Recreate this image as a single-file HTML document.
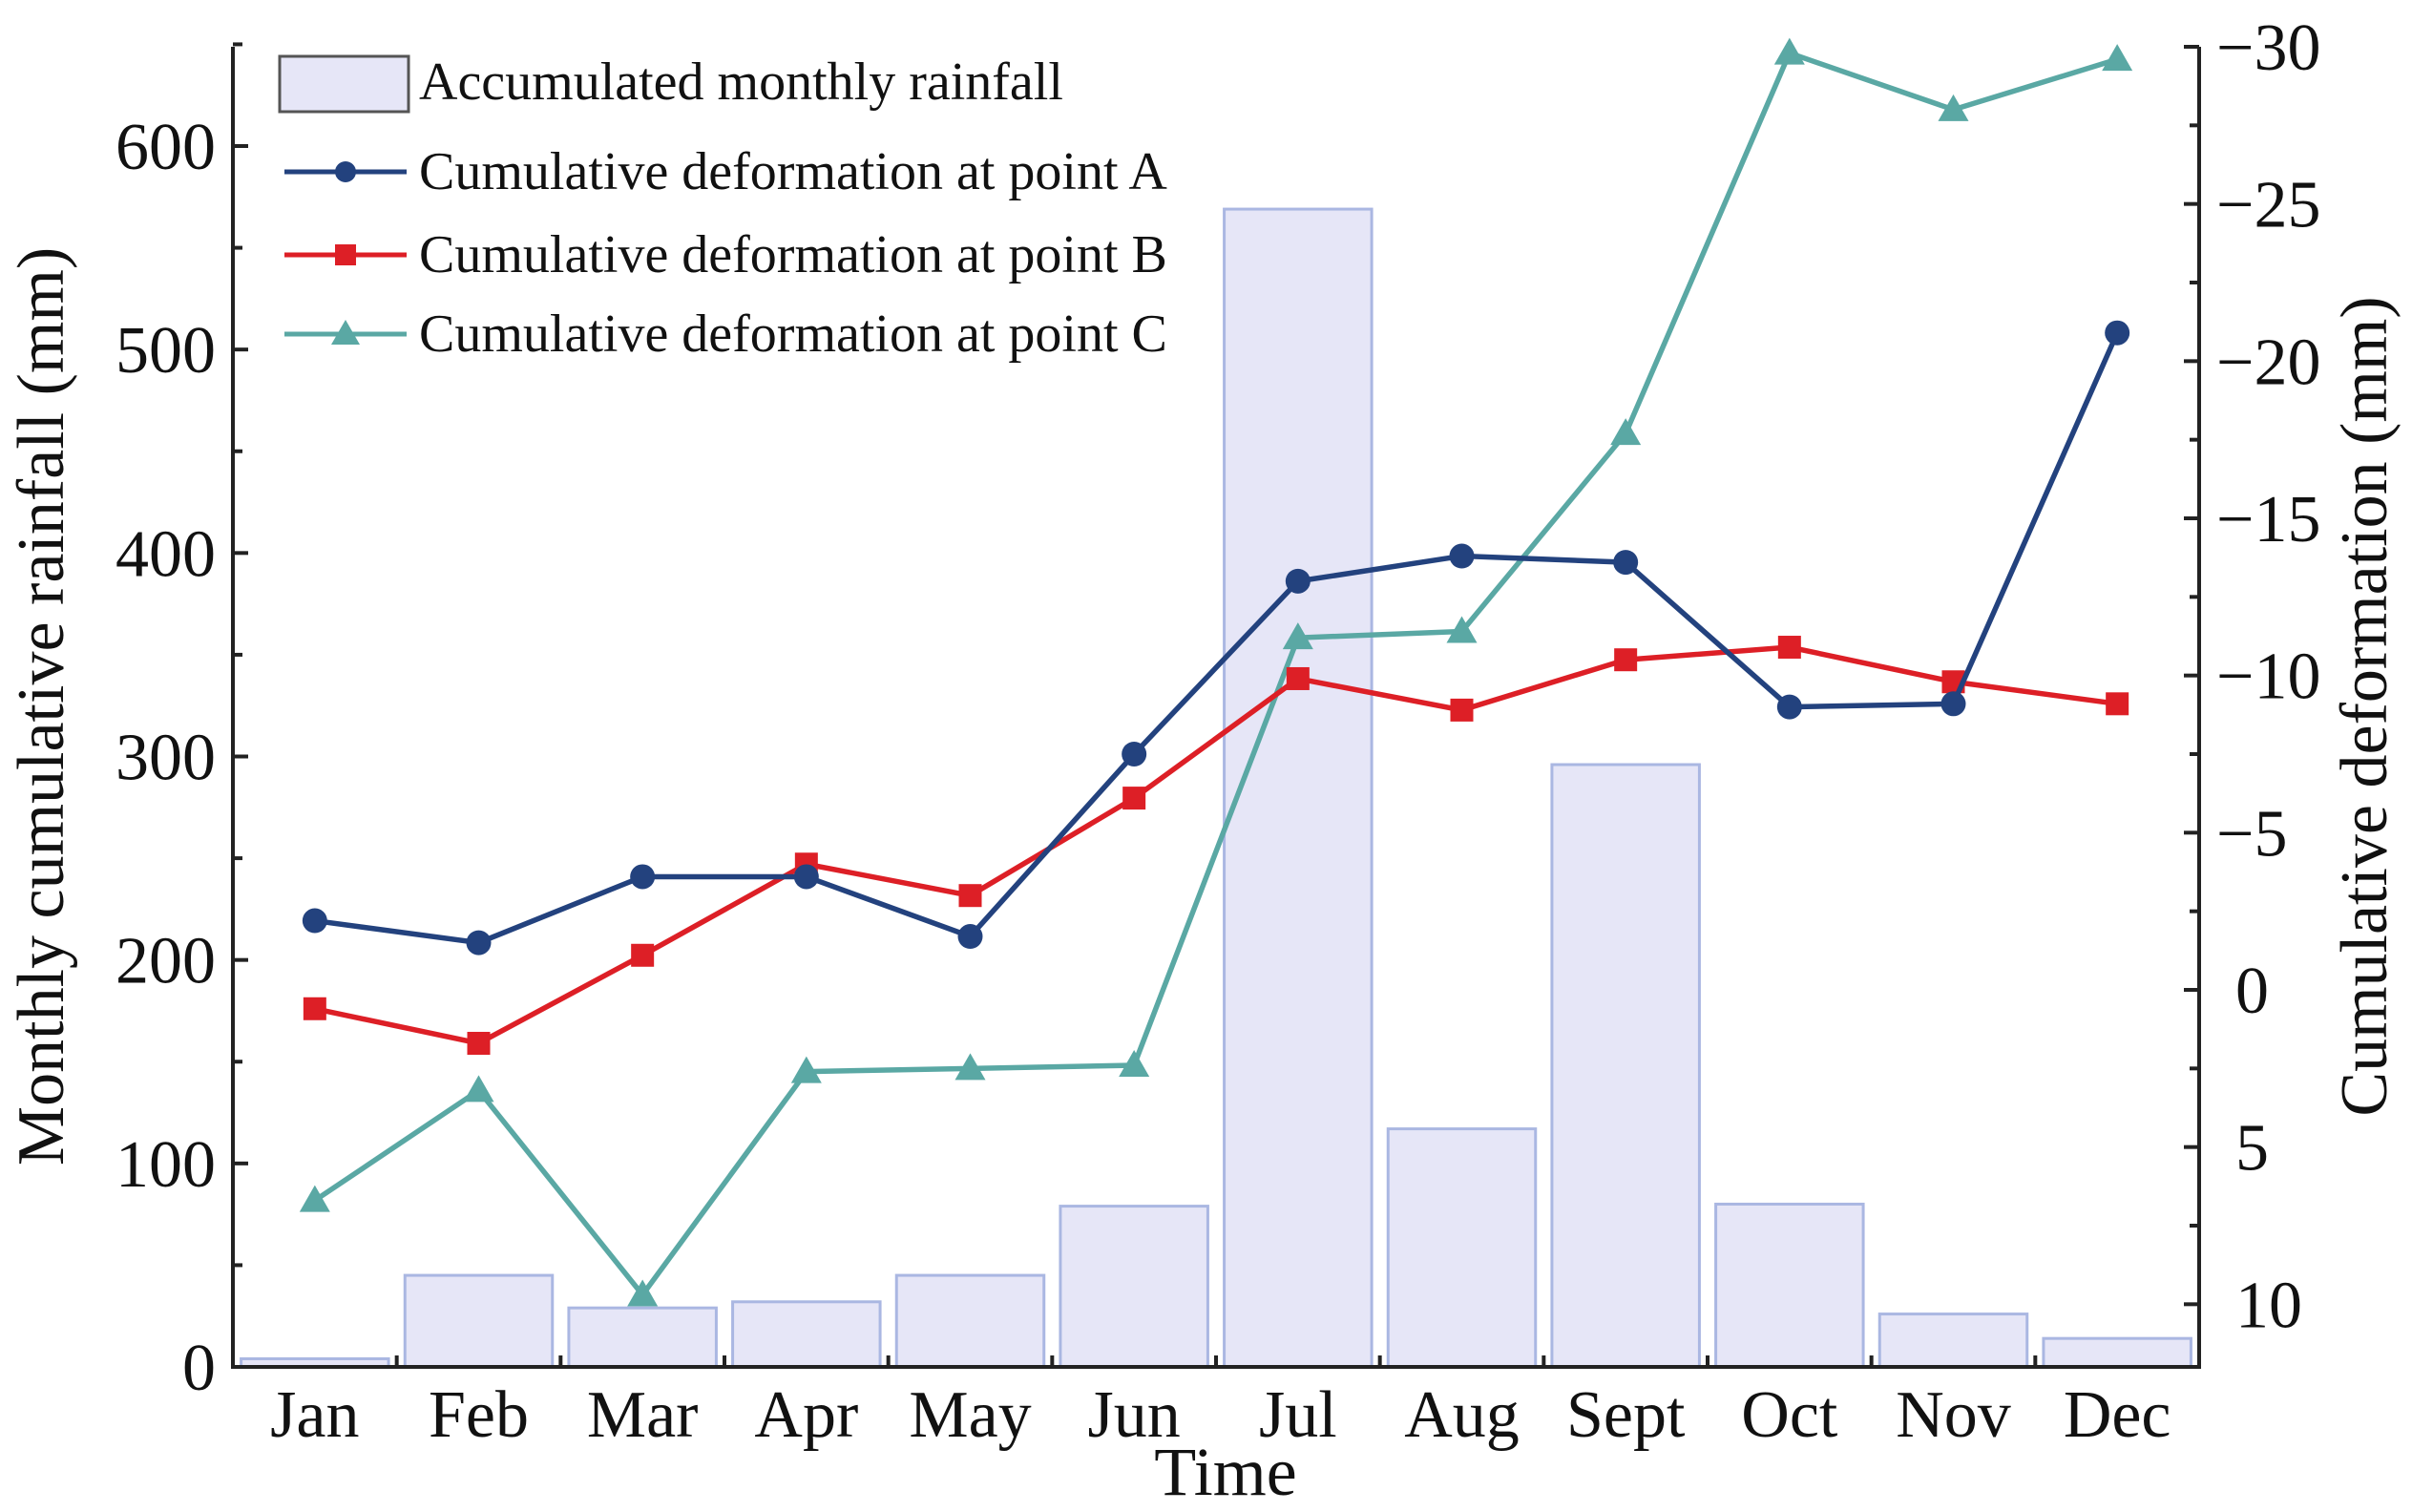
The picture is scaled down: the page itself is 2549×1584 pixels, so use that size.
<!DOCTYPE html>
<html><head><meta charset="utf-8"><style>
html,body{margin:0;padding:0;background:#fff;}
svg{display:block;font-family:"Liberation Serif",serif;}
</style></head><body>
<svg id="chart" width="2549" height="1584" viewBox="0 0 2549 1584">
<g id="bars"></g>
<g id="axes"></g>
<g id="lines"></g>
<g id="legend">
  <rect x="293" y="59" width="135" height="58" fill="#e6e6f7" stroke="#555" stroke-width="3"/>
  <text x="439" y="104" font-size="56" fill="#111">Accumulated monthly rainfall</text>
  <line x1="298" y1="180" x2="426" y2="180" stroke="#23427e" stroke-width="5"/>
  <circle cx="362" cy="180" r="11" fill="#23427e"/>
  <text x="439" y="198" font-size="56" fill="#111">Cumulative deformation at point A</text>
  <line x1="298" y1="267" x2="426" y2="267" stroke="#dd1f26" stroke-width="5"/>
  <rect x="351" y="256" width="22" height="22" fill="#dd1f26"/>
  <text x="439" y="285" font-size="56" fill="#111">Cumulative deformation at point B</text>
  <line x1="298" y1="350" x2="426" y2="350" stroke="#5aa8a4" stroke-width="5"/>
  <polygon points="362,335 377,361 347,361" fill="#5aa8a4"/>
  <text x="439" y="368" font-size="56" fill="#111">Cumulative deformation at point C</text>
</g>
<text x="66" y="740" font-size="70" text-anchor="middle" transform="rotate(-90 66 740)" fill="#111">Monthly cumulative rainfall (mm)</text>
<text x="2500" y="740" font-size="70" text-anchor="middle" transform="rotate(-90 2500 740)" fill="#111">Cumulative deformation (mm)</text>
<text x="1284" y="1566" font-size="72" text-anchor="middle" fill="#111">Time</text>
</svg>
<script>
const months = ["Jan","Feb","Mar","Apr","May","Jun","Jul","Aug","Sept","Oct","Nov","Dec"];
const rainfall = [4,45,29,32,45,79,569,117,296,80,26,14];
const defA = [-2.2,-1.5,-3.6,-3.6,-1.7,-7.5,-13.0,-13.8,-13.6,-9.0,-9.1,-20.9];
const defB = [0.6,1.7,-1.1,-4.0,-3.0,-6.1,-9.9,-8.9,-10.5,-10.9,-9.8,-9.1];
const defC = [6.7,3.2,9.7,2.6,2.5,2.4,-11.2,-11.4,-17.7,-29.8,-28.0,-29.6];
const leftTicks = [0,100,200,300,400,500,600];
const rightTicks = [-30,-25,-20,-15,-10,-5,0,5,10];

const NS="http://www.w3.org/2000/svg";
const L=244,R=2304,B=1432,T=49;
const bw=(R-L)/months.length;
const xC=i=>L+bw*(i+0.5);
const yL=v=>B-v*(B-153)/600;
const yR=d=>1037+d*((1037-49)/30);
function mk(tag,attrs,parent){const e=document.createElementNS(NS,tag);for(const k in attrs)e.setAttribute(k,attrs[k]);parent.appendChild(e);return e;}
const gb=document.getElementById('bars'),ga=document.getElementById('axes'),gl=document.getElementById('lines');

rainfall.forEach((v,i)=>{
  const w=bw*0.9;
  const r=mk('rect',{x:xC(i)-w/2,y:yL(v),width:w,height:B-yL(v),fill:'#e6e6f7',stroke:'#aab7e2','stroke-width':3},gb);
  
  
});

let ax=mk('path',{d:`M${L},${T} L${L},${B} L${R},${B} L${R},${T}`,fill:'none',stroke:'#222','stroke-width':4},ga);


for(let v=0;v<=650;v+=50){
  const len=(v%100===0)?16:10;
  const t=mk('line',{x1:L,y1:yL(v),x2:L+len,y2:yL(v),stroke:'#222','stroke-width':4},ga);
  
  
}
leftTicks.forEach(v=>{
  const t=mk('text',{x:226,y:yL(v)+24,'font-size':70,'text-anchor':'end',fill:'#111'},ga);
  t.textContent=v;
  
  
});
for(let d=-30;d<=12;d+=2.5){
  const len=(d%5===0)?16:10;
  const t=mk('line',{x1:R,y1:yR(d),x2:R-len,y2:yR(d),stroke:'#222','stroke-width':4},ga);
  
  
}
rightTicks.forEach(d=>{
  const t=mk('text',{x:2322,y:yR(d)+24,'font-size':70,fill:'#111'},ga);
  t.textContent=d<0?('\u2212'+Math.abs(d)):String(d);
  if(d>=0) t.setAttribute('x',2342);
  
  
});
for(let i=1;i<months.length;i++){
  const t=mk('line',{x1:L+bw*i,y1:B,x2:L+bw*i,y2:B-12,stroke:'#222','stroke-width':4},ga);
  
  
}
months.forEach((m,i)=>{
  const t=mk('text',{x:xC(i),y:1505,'font-size':70,'text-anchor':'middle',fill:'#111'},ga);
  t.textContent=m;
  
  
});

function series(data,color,shape,name){
  const pts=data.map((d,i)=>xC(i)+','+yR(d)).join(' ');
  const pl=mk('polyline',{points:pts,fill:'none',stroke:color,'stroke-width':5.5},gl);
  
  
  data.forEach((d,i)=>{
    const x=xC(i),y=yR(d);let e;
    if(shape==='c') e=mk('circle',{cx:x,cy:y,r:13,fill:color},gl);
    else if(shape==='s') e=mk('rect',{x:x-12,y:y-12,width:24,height:24,fill:color},gl);
    else e=mk('polygon',{points:`${x},${y-16} ${x+16},${y+12} ${x-16},${y+12}`,fill:color},gl);
    
    
  });
}
series(defC,'#5aa8a4','t','c');
series(defB,'#dd1f26','s','b');
series(defA,'#23427e','c','a');
</script>
</body></html>
